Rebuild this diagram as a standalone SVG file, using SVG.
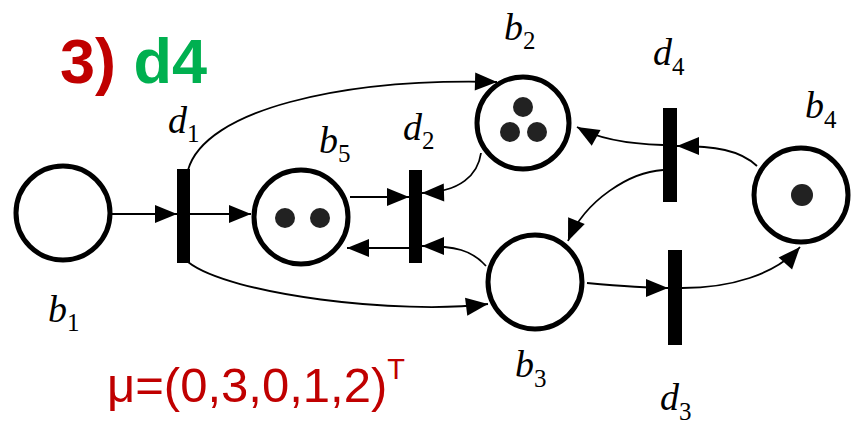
<svg xmlns="http://www.w3.org/2000/svg" width="854" height="424" viewBox="0 0 854 424">
<style>
.place{fill:#fff;stroke:#000;stroke-width:5}
.tok{fill:#222}
.trans{fill:#000}
.arc{fill:none;stroke:#000;stroke-width:1.8;marker-end:url(#ah)}
.lbl{font-family:"Liberation Serif","Times New Roman",serif;font-style:italic;font-size:38px;fill:#000}
.sub{font-family:"Liberation Serif","Times New Roman",serif;font-style:normal;font-size:25px;fill:#000}
.title{font-family:"Liberation Sans",Arial,sans-serif;font-weight:bold;font-size:63px}
.mu{font-family:"Liberation Sans",Arial,sans-serif;font-size:49px;fill:#C00000}
</style>
<defs>
<marker id="ah" markerUnits="userSpaceOnUse" markerWidth="24" markerHeight="20" refX="22" refY="9" orient="auto" overflow="visible">
<path d="M0,0 L22,9 L0,18 z" fill="#000"/>
</marker>
</defs>
<rect width="854" height="424" fill="#fff"/>
<text class="title" x="60" y="83"><tspan fill="#C00000">3)</tspan> <tspan fill="#00B050">d4</tspan></text>
<g id="connectors">
<path class="arc" d="M112,214 L177,214"/>
<path class="arc" d="M190,214 L251,214"/>
<path class="arc" d="M188,170 C205,110 340,78 497,82"/>
<path class="arc" d="M188,262 C230,295 400,315 488,304"/>
<path class="arc" d="M350,197 L409,197"/>
<path class="arc" d="M409,248 L347,248"/>
<path class="arc" d="M481,153 C478,175 460,192 422,193"/>
<path class="arc" d="M486,266 C472,250 455,246 422,246"/>
<path class="arc" d="M663,145 C630,144 600,140 577,127"/>
<path class="arc" d="M757,166 C740,150 715,146 677,146"/>
<path class="arc" d="M663,170 C630,172 585,200 568,241"/>
<path class="arc" d="M587,283 C620,286 645,288 668,288"/>
<path class="arc" d="M682,288 C730,288 775,275 800,247"/>
</g>
<g id="b1"><circle class="place" cx="63" cy="213" r="47"/><text class="lbl" x="48" y="322">b<tspan class="sub" dy="9">1</tspan></text></g>
<g id="b5"><circle class="place" cx="301" cy="217" r="47"/><circle class="tok" cx="285" cy="218" r="10"/><circle class="tok" cx="320" cy="218" r="10"/><text class="lbl" x="319" y="153">b<tspan class="sub" dy="9">5</tspan></text></g>
<g id="b2"><circle class="place" cx="523" cy="123" r="46"/><circle class="tok" cx="523" cy="107" r="10"/><circle class="tok" cx="510" cy="132" r="10"/><circle class="tok" cx="537" cy="132" r="10"/><text class="lbl" x="504" y="40">b<tspan class="sub" dy="9">2</tspan></text></g>
<g id="b3"><circle class="place" cx="535" cy="282" r="47"/><text class="lbl" x="515" y="377">b<tspan class="sub" dy="10">3</tspan></text></g>
<g id="b4"><circle class="place" cx="801" cy="195" r="47"/><circle class="tok" cx="802" cy="195" r="11"/><text class="lbl" x="805" y="118">b<tspan class="sub" dy="10">4</tspan></text></g>
<g id="d1"><rect class="trans" x="177" y="169" width="13" height="94"/><text class="lbl" x="168" y="133">d<tspan class="sub" dy="9">1</tspan></text></g>
<g id="d2"><rect class="trans" x="409" y="170" width="13" height="93"/><text class="lbl" x="403" y="140">d<tspan class="sub" dy="9">2</tspan></text></g>
<g id="d4"><rect class="trans" x="663" y="108" width="14" height="94"/><text class="lbl" x="653" y="65">d<tspan class="sub" dy="10">4</tspan></text></g>
<g id="d3"><rect class="trans" x="668" y="250" width="14" height="95"/><text class="lbl" x="660" y="410">d<tspan class="sub" dy="10">3</tspan></text></g>
<text class="mu" x="107" y="402">μ=(0,3,0,1,2)<tspan font-size="29" dy="-23">T</tspan></text>
</svg>
